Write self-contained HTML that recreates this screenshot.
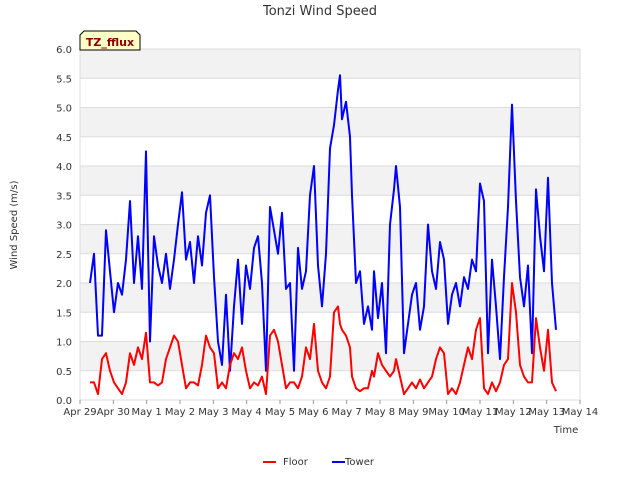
<!DOCTYPE html>
<html><head><meta charset="utf-8"><style>
body{margin:0;background:#fff;font-family:"Liberation Sans","DejaVu Sans",sans-serif}
svg text{font-family:"DejaVu Sans","Liberation Sans",sans-serif}
</style></head><body>
<svg id="chart" width="640" height="480" xmlns="http://www.w3.org/2000/svg">
<text x="320" y="15" text-anchor="middle" font-size="13" fill="#333">Tonzi Wind Speed</text>
<g id="bands"></g><g id="grid"></g>
<g id="ticks"></g>
<g id="series"></g>
<text transform="translate(17,225) rotate(-90)" text-anchor="middle" font-size="10" fill="#333">Wind Speed (m/s)</text>
<text x="566" y="433" text-anchor="middle" font-size="10" fill="#333">Time</text>
<g>
<path d="M80,50 L80,35 L84,31 L136,31 L140,35 L140,50 Z" fill="#ffffc8" stroke="#000" stroke-width="1"/>
<text x="110" y="46" text-anchor="middle" font-size="11" font-weight="bold" fill="#8b0000">TZ_fflux</text></g>
<g>
<g><line x1="263" y1="462" x2="276" y2="462" stroke="#f00" stroke-width="2"/><text x="283" y="465" font-size="10" fill="#333">Floor</text></g>
<g><line x1="332" y1="462" x2="345" y2="462" stroke="#00f" stroke-width="2"/><text x="345" y="465" font-size="10" fill="#333">Tower</text></g>
</g>
</svg>
<script>
const days=[0.30,0.42,0.54,0.66,0.78,0.90,1.02,1.14,1.26,1.38,1.50,1.62,1.74,1.86,1.98,2.10,2.22,2.34,2.46,2.58,2.70,2.82,2.94,3.06,3.18,3.30,3.42,3.54,3.66,3.78,3.90,4.02,4.14,4.26,4.38,4.50,4.62,4.74,4.86,4.98,5.10,5.22,5.34,5.46,5.58,5.70,5.82,5.94,6.06,6.18,6.30,6.42,6.54,6.66,6.78,6.90,7.02,7.14,7.26,7.38,7.50,7.62,7.74,7.80,7.86,7.98,8.10,8.16,8.28,8.40,8.52,8.64,8.76,8.82,8.94,9.06,9.18,9.30,9.42,9.48,9.60,9.72,9.84,9.96,10.08,10.20,10.32,10.44,10.56,10.68,10.80,10.92,11.04,11.16,11.28,11.40,11.52,11.64,11.76,11.88,12.00,12.12,12.24,12.36,12.48,12.60,12.72,12.84,12.96,13.08,13.20,13.32,13.44,13.56,13.68,13.80,13.92,14.04,14.16,14.28];
const tower=[2.0,2.5,1.1,1.1,2.9,2.2,1.5,2.0,1.8,2.4,3.4,2.0,2.8,1.9,4.25,1.0,2.8,2.3,2.0,2.5,1.9,2.4,3.0,3.55,2.4,2.7,2.0,2.8,2.3,3.2,3.5,2.1,1.0,0.6,1.8,0.5,1.6,2.4,1.3,2.3,1.9,2.6,2.8,2.0,0.5,3.3,2.9,2.5,3.2,1.9,2.0,0.5,2.6,1.9,2.2,3.5,4.0,2.3,1.6,2.5,4.3,4.7,5.3,5.55,4.8,5.1,4.5,3.5,2.0,2.2,1.3,1.6,1.2,2.2,1.4,2.0,0.8,3.0,3.6,4.0,3.3,0.8,1.3,1.8,2.0,1.2,1.6,3.0,2.2,1.9,2.7,2.4,1.3,1.8,2.0,1.6,2.1,1.9,2.4,2.2,3.7,3.4,0.8,2.4,1.6,0.7,2.1,3.3,5.05,3.4,2.1,1.6,2.3,0.8,3.6,2.8,2.2,3.8,2.0,1.2];
const floor=[0.3,0.3,0.1,0.7,0.8,0.5,0.3,0.2,0.1,0.3,0.8,0.6,0.9,0.7,1.15,0.3,0.3,0.25,0.3,0.7,0.9,1.1,1.0,0.6,0.2,0.3,0.3,0.25,0.6,1.1,0.9,0.8,0.2,0.3,0.2,0.6,0.8,0.7,0.9,0.5,0.2,0.3,0.25,0.4,0.1,1.1,1.2,1.0,0.6,0.2,0.3,0.3,0.2,0.4,0.9,0.7,1.3,0.5,0.3,0.2,0.4,1.5,1.6,1.3,1.2,1.1,0.9,0.4,0.2,0.15,0.2,0.2,0.5,0.4,0.8,0.6,0.5,0.4,0.5,0.7,0.4,0.1,0.2,0.3,0.2,0.35,0.2,0.3,0.4,0.7,0.9,0.8,0.1,0.2,0.1,0.3,0.6,0.9,0.7,1.2,1.4,0.2,0.1,0.3,0.15,0.3,0.6,0.7,2.0,1.5,0.6,0.4,0.3,0.3,1.4,0.9,0.5,1.2,0.3,0.15];
const xLabels=["Apr 29","Apr 30","May 1","May 2","May 3","May 4","May 5","May 6","May 7","May 8","May 9","May 10","May 11","May 12","May 13","May 14"];
const yTicks=[0.0,0.5,1.0,1.5,2.0,2.5,3.0,3.5,4.0,4.5,5.0,5.5,6.0];
const L=80,R=580,T=49,B=400,xMax=15,yMax=6;
const X=d=>L+d/xMax*(R-L), Y=v=>B-v/yMax*(B-T);
const NS="http://www.w3.org/2000/svg";
function mk(t,a,p){const e=document.createElementNS(NS,t);for(const k in a)e.setAttribute(k,a[k]);p.appendChild(e);return e;}
const bands=document.getElementById('bands'),grid=document.getElementById('grid'),ticks=document.getElementById('ticks'),series=document.getElementById('series');
mk('rect',{x:L,y:T,width:R-L,height:B-T,fill:'#fff'},bands);
for(let i=1;i<yTicks.length;i+=2){const b=mk('rect',{x:L,y:Y(yTicks[i+1]!==undefined?yTicks[i+1]:yTicks[i]),width:R-L,height:Y(yTicks[i])-Y(yTicks[i+1]),fill:'#f2f2f2'},bands);

}
yTicks.forEach(v=>{const l=mk('line',{x1:L,x2:R,y1:Y(v),y2:Y(v),stroke:'#dcdcdc','stroke-width':1},grid);


const t=mk('text',{x:L-8,y:Y(v)+4,'text-anchor':'end','font-size':10,fill:'#333'},ticks);t.textContent=v.toFixed(1);

});
mk('line',{x1:L,x2:L,y1:T,y2:B,stroke:'#dcdcdc'},grid);
mk('line',{x1:R,x2:R,y1:T,y2:B,stroke:'#dcdcdc'},grid);
xLabels.forEach((s,i)=>{mk('line',{x1:X(i),x2:X(i),y1:B,y2:B+4,stroke:'#999'},ticks);
const t=mk('text',{x:X(i),y:B+15,'text-anchor':'middle','font-size':10,fill:'#333'},ticks);t.textContent=s;

});
function line(vals,color,name){const d=vals.map((v,i)=>(i?'L':'M')+X(days[i]).toFixed(1)+','+Y(v).toFixed(1)).join(' ');
const p=mk('path',{d:d,fill:'none',stroke:color,'stroke-width':2,'stroke-linejoin':'round'},series);

}
line(tower,'#0000ff','tower-series');
line(floor,'#ff0000','floor-series');
</script>
</body></html>
